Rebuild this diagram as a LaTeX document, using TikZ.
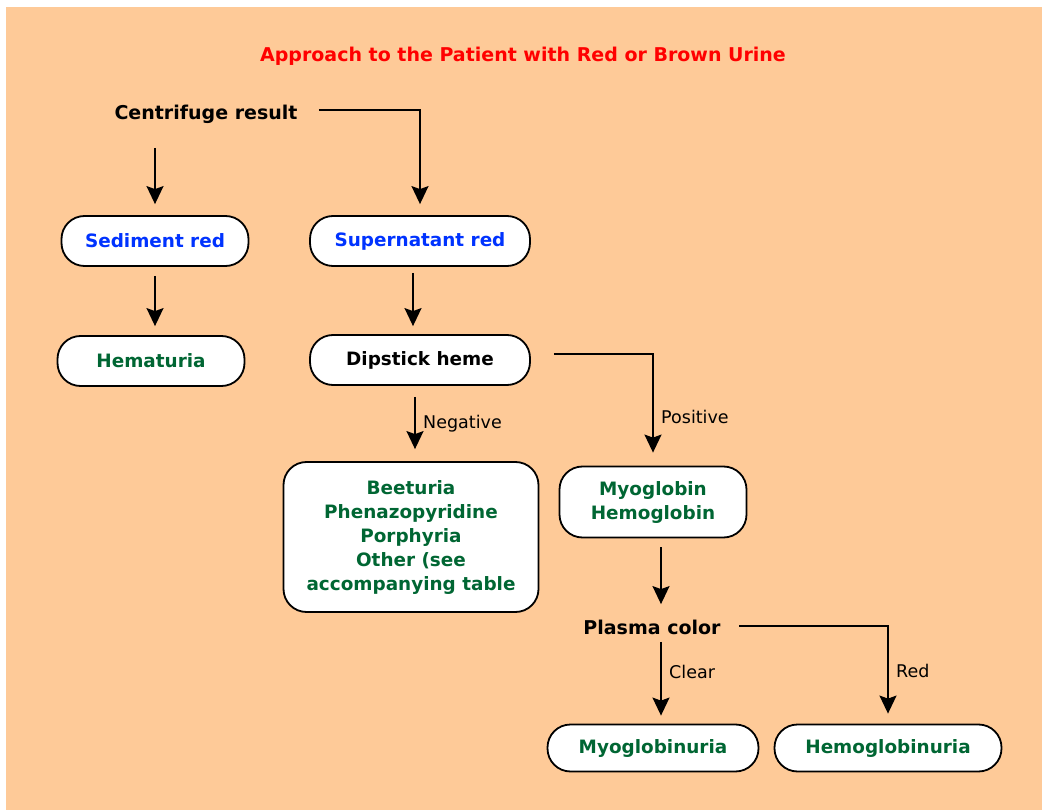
\documentclass[tikz,border=0pt]{standalone}
\usepackage{fontspec}
\setmainfont{DejaVu Sans}
\usetikzlibrary{arrows.meta}
\definecolor{peach}{RGB}{254,202,152}
\definecolor{titlered}{RGB}{255,0,0}
\definecolor{linkblue}{RGB}{0,51,255}
\definecolor{dxgreen}{RGB}{0,102,51}
\tikzset{
  pill/.style={draw, fill=white, line width=1.8pt, rounded corners=23pt,
    minimum height=50pt, align=center,
    font=\fontsize{18.4}{24}\selectfont\bfseries},
  decision/.style={font=\fontsize{19}{22}\selectfont\bfseries},
  branch/.style={font=\fontsize{17.5}{20}\selectfont},
  arr/.style={line width=1.8pt, -{Stealth[length=18pt,width=17pt,inset=3pt]}}
}
\begin{document}
\begin{tikzpicture}[x=1pt, y={(0pt,-1pt)}]
  \fill[white] (0,0) rectangle (1042,810);
  \fill[peach] (6,7) rectangle (1042,810);
  \useasboundingbox (0,0) rectangle (1042,810);
  \node[decision, text=titlered] (title) at (523,56) {Approach to the Patient with Red or Brown Urine};
  \node[decision] (cent) at (206,114) {Centrifuge result};
  \node[pill, minimum width=187pt, text=linkblue] (sed) at (155,241) {Sediment red};
  \node[pill, minimum width=220pt, text=linkblue] (sup) at (420,241) {Supernatant red};
  \node[pill, minimum width=187pt, text=dxgreen] (hem) at (151,361) {Hematuria};
  \node[pill, minimum width=220pt] (dip) at (420,360) {Dipstick heme};
  \node[pill, minimum width=255pt, minimum height=150pt, text=dxgreen] (beet) at (411,537)
    {Beeturia\\Phenazopyridine\\Porphyria\\Other (see\\accompanying table};
  \node[pill, minimum width=187pt, minimum height=71pt, text=dxgreen] (myo) at (653,502) {Myoglobin\\Hemoglobin};
  \node[decision] (plasma) at (652,627) {Plasma color};
  \node[pill, minimum width=211pt, minimum height=47pt, text=dxgreen] (myou) at (653,748) {Myoglobinuria};
  \node[pill, minimum width=227pt, minimum height=47pt, text=dxgreen] (hemou) at (888,748) {Hemoglobinuria};
  % centrifuge branches
  \draw[arr, shorten <=21pt, shorten >=11pt] (cent.south -| sed.north) -- (sed.north);
  \draw[arr, shorten >=11pt] ([xshift=18pt, yshift=4pt]cent.east) -| (sup.north);
  \draw[arr, shorten <=9pt, shorten >=9pt] (sed.south) -- (sed.south |- hem.north);
  \draw[arr, shorten <=6pt, shorten >=8pt] ([xshift=-7pt]sup.south) -- ([xshift=-7pt]dip.north);
  % dipstick
  \draw[arr, shorten <=11pt, shorten >=12pt] ([xshift=-5pt]dip.south) -- node[right, branch, xshift=4pt]{Negative} ([xshift=-5pt]dip.south |- beet.north);
  \draw[arr, shorten >=13pt] ([xshift=23pt, yshift=6pt]dip.east) -| node[pos=0.78, right, branch, xshift=4pt]{Positive} (myo.north);
  % plasma
  \draw[arr, shorten <=9pt, shorten >=12pt] ([xshift=8pt]myo.south) -- ([xshift=8pt]myo.south |- plasma.north);
  \draw[arr, shorten <=4pt, shorten >=8pt] ([xshift=8pt]myou.north |- plasma.south) -- node[pos=0.4, right, branch, xshift=4pt]{Clear} ([xshift=8pt]myou.north);
  \draw[arr, shorten >=10pt] ([xshift=15pt, yshift=1pt]plasma.east) -| node[pos=0.73, right, branch, xshift=4pt]{Red} (hemou.north);
\end{tikzpicture}
\end{document}
